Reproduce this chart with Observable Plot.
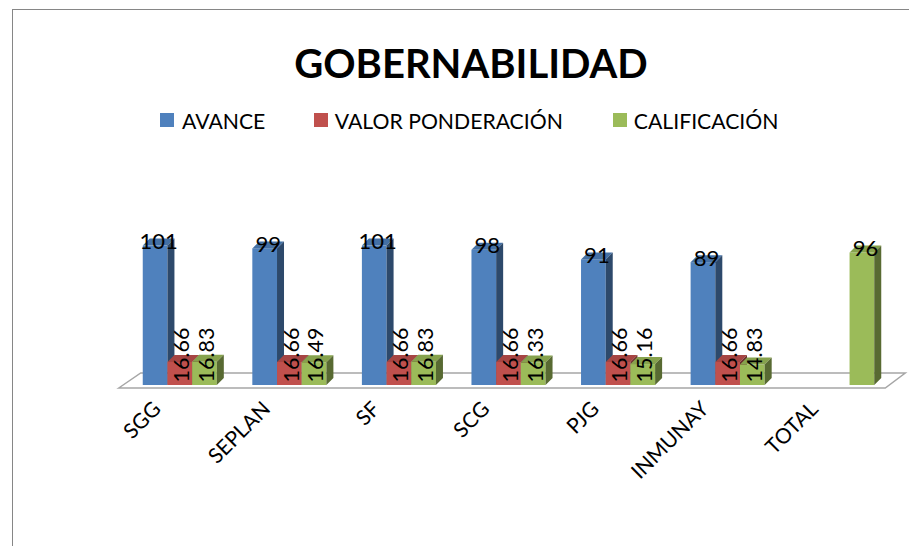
<!DOCTYPE html>
<html lang="es">
<head>
<meta charset="utf-8">
<script src="https://cdn.jsdelivr.net/npm/d3@7"></script>
<script src="https://cdn.jsdelivr.net/npm/@observablehq/plot@0.6"></script>
<style>
  html, body { margin: 0; padding: 0; background: #fff; width: 909px; height: 546px; overflow: hidden; }
  body { position: relative; font-family: Lato, "Open Sans", sans-serif; color: #000; }
  #frame { position: absolute; left: 12px; top: 9px; width: 2000px; height: 2000px; border: 1px solid #868686; box-sizing: border-box; }
  #title { position: absolute; left: 0; top: 35px; width: 942px; text-align: center; font-size: 40px; line-height: 56px; font-weight: 700; }
  #legend { position: absolute; left: 160px; top: 107px; display: flex; gap: 49px; font-size: 21.2px; line-height: 28px; white-space: nowrap; }
  #legend .item { display: flex; align-items: center; gap: 8px; }
  #legend .item + .item span:last-child { position: relative; left: -1.5px; }
  #legend .sw { width: 14px; height: 14px; display: block; margin-top: -3px; }
  #chart { position: absolute; left: 0; top: 140px; }
  #chart svg { overflow: visible; background: transparent; }
</style>
</head>
<body>
<div id="frame"></div>
<div id="title"></div>
<div id="legend"></div>
<div id="chart"></div>
<script>
const titleText = "GOBERNABILIDAD";
const categories = ["SGG", "SEPLAN", "SF", "SCG", "PJG", "INMUNAY", "TOTAL"];
const seriesNames = ["AVANCE", "VALOR PONDERACIÓN", "CALIFICACIÓN"];
const seriesColors = ["#4f81bd", "#c0504d", "#9bbb59"];
const avance = [101, 99, 101, 98, 91, 89, null];
const valorPonderacion = [16.66, 16.66, 16.66, 16.66, 16.66, 16.66, null];
const calificacion = [16.83, 16.49, 16.83, 16.33, 15.16, 14.83, 96];

const rows = [];
[avance, valorPonderacion, calificacion].forEach((values, s) => {
  values.forEach((value, c) => {
    if (value != null) rows.push({category: categories[c], series: seriesNames[s], value});
  });
});

document.getElementById("title").textContent = titleText;
const legend = document.getElementById("legend");
seriesNames.forEach((name, i) => {
  const item = document.createElement("div");
  item.className = "item";
  const sw = document.createElement("span");
  sw.className = "sw";
  sw.style.background = seriesColors[i];
  const label = document.createElement("span");
  label.textContent = name;
  item.append(sw, label);
  legend.append(item);
});

const depth = 7;
const ns = "http://www.w3.org/2000/svg";

function extrude(index, scales, values, dimensions, context, next) {
  const g = next(index, scales, values, dimensions, context);
  for (const rect of Array.from(g.querySelectorAll("rect"))) {
    const x = +rect.getAttribute("x"), y = +rect.getAttribute("y");
    const w = +rect.getAttribute("width"), h = +rect.getAttribute("height");
    const fill = rect.getAttribute("fill");
    const top = document.createElementNS(ns, "polygon");
    top.setAttribute("points", `${x},${y} ${x + depth},${y - depth} ${x + w + depth},${y - depth} ${x + w},${y}`);
    top.setAttribute("fill", d3.rgb(fill).darker(0.4).formatHex());
    const side = document.createElementNS(ns, "polygon");
    side.setAttribute("points", `${x + w},${y} ${x + w + depth},${y - depth} ${x + w + depth},${y + h - depth} ${x + w},${y + h}`);
    side.setAttribute("fill", d3.rgb(fill).darker(1.6).formatHex());
    rect.after(top, side);
  }
  return g;
}

function floor(index, scales, values, dimensions) {
  const g = document.createElementNS(ns, "g");
  const front = scales.y(0) + 3, back = front - 15;
  const left = dimensions.marginLeft, right = dimensions.width - dimensions.marginRight;
  const poly = document.createElementNS(ns, "polygon");
  poly.setAttribute("points", `${left - 24},${front} ${left - 2},${back} ${right + 31},${back} ${right + 11},${front}`);
  poly.setAttribute("fill", "none");
  poly.setAttribute("stroke", "#a6a6a6");
  poly.setAttribute("stroke-width", 1.5);
  g.append(poly);
  return g;
}

const chart = Plot.plot({
  width: 909,
  height: 406,
  marginLeft: 125,
  marginRight: 17,
  marginTop: 0,
  marginBottom: 161,
  style: {fontFamily: "Lato, 'Open Sans', sans-serif", color: "#000", background: "transparent"},
  fx: {domain: categories, paddingInner: 0.324, paddingOuter: 0.162, round: false, label: null},
  x: {domain: seriesNames, padding: 0, round: false, axis: null},
  y: {domain: [0, 160], range: [245, 24.2], axis: null},
  color: {domain: seriesNames, range: seriesColors},
  marks: [
    Plot.frame({facet: "super", render: floor}),
    Plot.barY(rows, {fx: "category", x: "series", y: "value", fill: "series", render: extrude}),
    Plot.text(rows.filter(d => d.value < 50), {
      fx: "category", x: "series", y: () => 0, text: d => d.value.toFixed(2),
      rotate: -90, textAnchor: "start", dx: 2, dy: -3, fontSize: 21.5, fill: "#000"
    }),
    Plot.text(rows.filter(d => d.value >= 50), {
      fx: "category", x: "series", y: "value", text: d => String(d.value),
      dx: 3, dy: -4, fontSize: 22, fill: "#000"
    }),
    Plot.axisFx({anchor: "bottom", tickRotate: -45, tickSize: 0, tickPadding: 20, dx: -23, fontSize: 21, fill: "#000", label: null})
  ]
});
document.getElementById("chart").append(chart);
</script>
</body>
</html>
